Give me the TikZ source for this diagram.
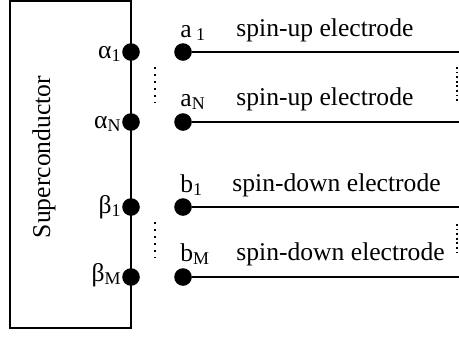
\documentclass[tikz,border=0pt]{standalone}
\usepackage{fontspec}
\setmainfont{Liberation Serif}
\begin{document}
\begin{tikzpicture}[x=0.5pt,y=-0.5pt,
  wire/.style={line width=1pt},
  dot/.style={circle,fill=black,inner sep=0pt,minimum size=8.8pt},
  lbl/.style={font=\fontsize{12.8}{15}\selectfont, inner sep=0pt},
  vdots/.style={line width=1.1pt,dash pattern=on 1pt off 2.5pt},
  rdots/.style={line width=1.1pt,dash pattern=on 0.9pt off 1.4pt}]
\useasboundingbox (0,0) rectangle (459,339);
% superconductor box
\draw[wire] (10,1) rectangle (131,328);
\node[lbl,rotate=90] (sc) at (44,157) {Superconductor};
% left contacts
\node[dot] (al1) at (131,52) {};
\node[dot] (alN) at (131,122) {};
\node[dot] (be1) at (131,207) {};
\node[dot] (beM) at (131,277) {};
\node[lbl,anchor=base east] (lal1) at (122,58) {α\textsubscript{1}};
\node[lbl,anchor=base east] (lalN) at (122,128) {α\textsubscript{N}};
\node[lbl,anchor=base east] (lbe1) at (122,213) {β\textsubscript{1}};
\node[lbl,anchor=base east] (lbeM) at (122,281) {β\textsubscript{M}};
% right contacts
\node[dot] (a1) at (183,52) {};
\node[dot] (aN) at (183,122) {};
\node[dot] (b1) at (183,207) {};
\node[dot] (bM) at (183,277) {};
\coordinate (a1e) at (459,52);
\coordinate (aNe) at (459,122);
\coordinate (b1e) at (459,207);
\coordinate (bMe) at (459,277);
\draw[wire] (a1) -- (a1e);
\draw[wire] (aN) -- (aNe);
\draw[wire] (b1) -- (b1e);
\draw[wire] (bM) -- (bMe);
\node[lbl,anchor=base west] (la1) at (180,37) {a\,\textsubscript{1}};
\node[lbl,anchor=base west] (laN) at (180,106) {a\textsubscript{N}};
\node[lbl,anchor=base west] (lb1) at (180,192) {b\textsubscript{1}};
\node[lbl,anchor=base west] (lbM) at (180,261) {b\textsubscript{M}};
% electrode labels
\node[lbl,anchor=base west] (t1) at (236,36) {spin-up electrode};
\node[lbl,anchor=base west] (t2) at (236,105) {spin-up electrode};
\node[lbl,anchor=base west] (t3) at (232,191) {spin-down electrode};
\node[lbl,anchor=base west] (t4) at (236,260) {spin-down electrode};
% dotted separators
\draw[vdots] (155,67) -- (155,103);
\draw[vdots] (155,222) -- (155,258);
\draw[rdots] (457,67) -- (457,102);
\draw[rdots] (457,224) -- (457,255);
\end{tikzpicture}
\end{document}
